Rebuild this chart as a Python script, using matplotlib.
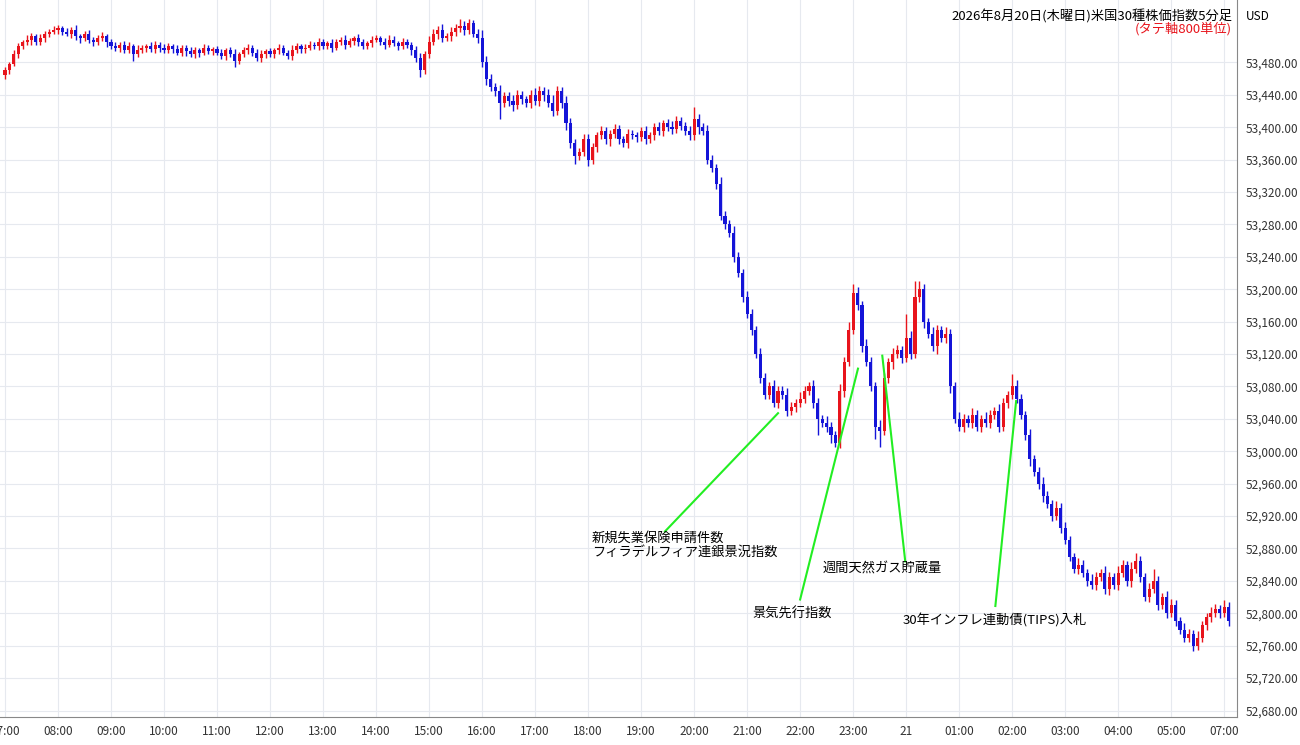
import matplotlib
matplotlib.use("Agg")
import matplotlib.pyplot as plt
from matplotlib.patches import Rectangle

plt.rcParams['font.family'] = ['Noto Sans CJK JP', 'DejaVu Sans']

closes = [
 53470,53478,53490,53500,53505,53508,53512,53505,53510,53515,53518,53520,
 53522,53518,53515,53520,53512,53510,53515,53508,53505,53510,53512,53505,
 53500,53498,53502,53495,53500,53490,53495,53498,53500,53496,53502,53498,
 53495,53500,53496,53492,53498,53494,53490,53495,53492,53498,53494,53496,
 53492,53488,53495,53490,53482,53490,53495,53498,53492,53485,53490,53494,
 53490,53495,53498,53492,53488,53495,53500,53496,53498,53502,53500,53505,
 53500,53504,53498,53505,53508,53502,53506,53510,53505,53500,53504,53508,
 53510,53505,53502,53508,53504,53500,53505,53502,53495,53485,53470,53490,
 53505,53515,53520,53510,53512,53518,53522,53525,53520,53528,53515,53510,
 53480,53460,53450,53445,53430,53438,53432,53428,53440,53435,53430,53440,
 53432,53445,53440,53430,53420,53445,53430,53405,53380,53365,53370,53385,
 53360,53375,53390,53395,53385,53392,53398,53385,53380,53392,53390,53388,
 53395,53385,53390,53400,53395,53405,53400,53398,53408,53402,53395,53390,
 53410,53400,53395,53360,53350,53330,53290,53280,53270,53240,53220,53190,
 53170,53150,53120,53090,53070,53080,53060,53075,53070,53050,53055,53060,
 53065,53075,53080,53060,53040,53035,53030,53020,53010,53075,53110,53150,
 53195,53180,53130,53110,53080,53030,53025,53090,53110,53120,53125,53115,
 53140,53120,53190,53200,53160,53145,53130,53150,53140,53145,53080,53040,
 53030,53040,53035,53045,53030,53040,53035,53045,53050,53030,53060,53070,
 53080,53065,53045,53020,52990,52975,52960,52945,52935,52920,52930,52905,
 52890,52870,52855,52860,52850,52840,52835,52845,52850,52830,52845,52835,
 52850,52860,52840,52855,52865,52845,52820,52830,52840,52810,52820,52800,
 52810,52790,52780,52770,52775,52760,52770,52785,52795,52800,52805,52800,
 52808,52790,
]
upper_wick = [
 4,3,5,4,3,6,4,3,5,4,3,5, 4,3,5,4,6,3,4,5,3,4,6,3, 4,5,3,4,5,3,6,4,3,5,4,3,
 5,4,3,6,4,3,5,4,3,5,4,3, 4,5,3,4,6,3,4,5,3,4,5,3, 4,3,5,4,3,6,4,3,5,4,3,5,
 4,3,5,4,3,6,4,3,5,4,3,5, 4,3,5,6,4,3,5,4,3,5,6,4, 8,6,5,7,4,6,5,8,6,5,4,6,
 10,8,6,5,7,6,5,8,6,5,4,6, 8,6,5,7,10,6,5,8,6,5,4,6, 6,5,4,6,5,4,6,5,4,6,5,4,
 5,6,4,5,6,4,5,8,6,5,4,6, 15,6,5,8,6,5,8,6,5,8,6,5, 8,6,5,8,6,5,8,6,5,8,6,5,
 8,6,5,8,6,5,8,6,5,8,6,10, 12,8,6,8,6,5,8,6,5,8,6,5, 30,8,20,10,6,5,8,6,5,8,6,5,
 8,6,5,8,6,5,8,6,5,8,6,5, 15,8,6,5,8,6,5,8,6,5,8,6, 8,6,5,8,6,5,8,6,5,8,6,5,
 8,6,5,8,10,6,5,8,15,6,5,8, 8,6,5,8,6,5,8,6,5,8,6,5, 8,6,5,8,6,5,8,6,5,8,6,5,
 5,6,
]
lower_wick = [
 6,4,3,5,4,3,6,4,3,5,4,3, 5,4,3,5,4,6,3,4,5,3,4,6, 3,4,5,3,4,8,3,4,5,3,4,5,
 3,4,5,3,4,6,3,4,5,3,4,5, 3,4,5,3,8,4,3,5,4,3,5,4, 3,4,5,3,4,5,3,4,5,3,4,5,
 3,4,5,3,4,5,3,4,5,3,4,5, 3,4,5,3,4,5,3,4,6,5,8,4, 5,4,6,5,4,6,5,4,6,5,4,6,
 6,8,5,6,20,5,6,8,5,6,5,6, 5,6,8,5,6,5,6,8,6,10,5,6, 8,5,6,5,6,8,5,6,5,6,5,6,
 5,6,5,6,5,6,5,6,5,6,5,6, 6,8,5,6,5,6,5,6,5,6,5,6, 5,6,5,6,5,6,5,6,5,6,5,6,
 5,6,5,6,20,5,6,10,5,6,8,5, 5,6,8,5,6,15,20,5,6,8,5,6, 5,6,5,6,8,5,6,10,5,6,8,5,
 5,6,5,6,5,6,5,6,5,6,5,6, 5,6,5,6,8,5,6,8,5,6,5,6, 5,6,5,6,5,6,5,6,5,6,8,5,
 6,5,6,8,5,6,5,6,5,6,5,6, 5,6,5,6,5,6,5,6,5,6,5,6, 5,6,8,5,6,10,5,6,5,6,5,6,
 5,8,
]
first_open = 53465
hour_ticks = ["07:00","08:00","09:00","10:00","11:00","12:00","13:00","14:00","15:00",
              "16:00","17:00","18:00","19:00","20:00","21:00","22:00","23:00","21",
              "01:00","02:00","03:00","04:00","05:00","07:00"]
price_ticks = list(range(52680, 53481, 40))
events = ["新規失業保険申請件数\nフィラデルフィア連銀景況指数", "景気先行指数",
          "週間天然ガス貯蔵量", "30年インフレ連動債(TIPS)入札"]
# anchor (x, y), line end (x, y), text position (x, y)
ev_anchor = [(175.0, 53047), (193.1, 53102), (198.6, 53118), (228.9, 53062)]
ev_end = [(149.4, 52901), (180.0, 52817), (203.8, 52864), (224.2, 52809)]
ev_text = [(132.9, 52884), (169.1, 52799), (185.0, 52855), (203.3, 52791)]

fig = plt.figure(figsize=(13, 7.45), dpi=100)
ax = fig.add_axes([0, 1 - 717/745, 1237/1300, 717/745])
up, down = '#e8141c', '#1414d8'
opens = [first_open] + closes[:-1]
for i, (o, c) in enumerate(zip(opens, closes)):
    col = up if c >= o else down
    hi = max(o, c) + upper_wick[i]
    lo = min(o, c) - lower_wick[i]
    ax.vlines(i, lo, hi, color=col, lw=1)
    ax.add_patch(Rectangle((i - 0.35, min(o, c)), 0.7, max(abs(c - o), 1.5), color=col, lw=0))
ax.set_xlim(-1.13, 278.9)
ax.set_ylim(52672, 53557)
ax.set_xticks([12 * k for k in range(len(hour_ticks))])
ax.set_xticklabels(hour_ticks, fontsize=8.5, color='#333333')
ax.yaxis.tick_right()
ax.set_yticks(price_ticks)
ax.set_yticklabels([f"{p:,}.00" for p in price_ticks], fontsize=8.5, color='#333333')
ax.tick_params(length=0, pad=6)
ax.grid(True, color='#e6e9ef', lw=0.8)
ax.set_axisbelow(True)
for s in ['top', 'left']:
    ax.spines[s].set_visible(False)
for s in ['right', 'bottom']:
    ax.spines[s].set_color('#888888')
for a, e, t, lab in zip(ev_anchor, ev_end, ev_text, events):
    ax.plot([a[0], e[0]], [a[1], e[1]], color='#22ee22', lw=1.5)
    ax.text(t[0], t[1], lab, fontsize=9.5, ha='left', va='center', linespacing=1.1)
fig.text(1232/1300, 1 - 16/745, "2026年8月20日(木曜日)米国30種株価指数5分足", ha='right', va='center', fontsize=9.5)
fig.text(1232/1300, 1 - 29/745, "(タテ軸800単位)", ha='right', va='center', fontsize=9.5, color='#e8141c')
fig.text(1258/1300, 1 - 16/745, "USD", ha='center', va='center', fontsize=8.5)
fig.savefig("out.png", dpi=100)
